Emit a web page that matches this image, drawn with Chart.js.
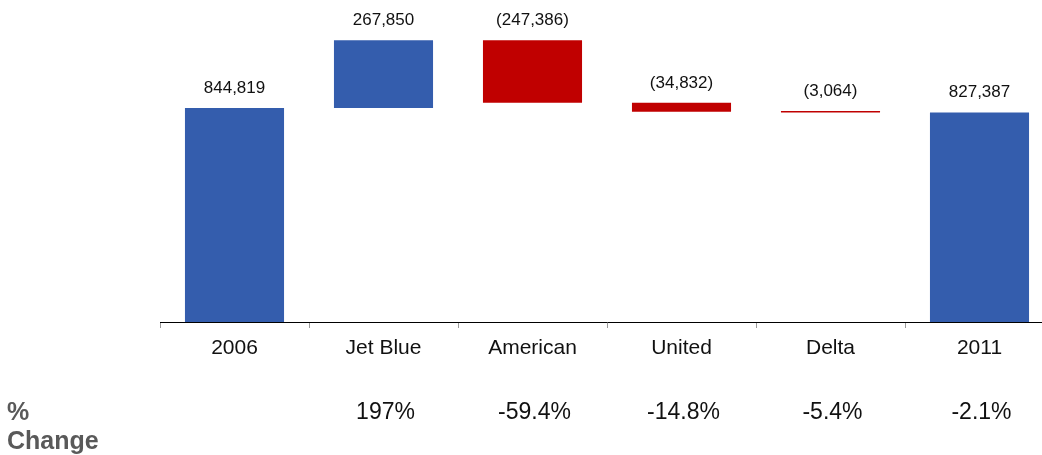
<!DOCTYPE html>
<html>
<head>
<meta charset="utf-8">
<script src="https://cdn.jsdelivr.net/npm/chart.js@4.4.1/dist/chart.umd.min.js"></script>
<style>
  html, body { margin: 0; padding: 0; background: #fff; overflow: hidden; }
  #wrap { width: 1060px; height: 455px; position: relative; }
</style>
</head>
<body>
<div id="wrap"><canvas id="chart_waterfall"></canvas></div>
<script>
// waterfall data
var categories = ['2006', 'Jet Blue', 'American', 'United', 'Delta', '2011'];
var changes = [844819, 267850, -247386, -34832, -3064, 827387];
var isTotal = [true, false, false, false, false, true];
var pctChange = ['', '197%', '-59.4%', '-14.8%', '-5.4%', '-2.1%'];

var blue = '#345DAD';
var red = '#C00000';

// build floating ranges from the running total
let ranges = [];
let colors = [];
let running = 0;
for (let i = 0; i < changes.length; i++) {
  if (isTotal[i]) {
    ranges.push([0, changes[i]]);
    running = changes[i];
    colors.push(blue);
  } else {
    ranges.push([running, running + changes[i]]);
    running += changes[i];
    colors.push(changes[i] < 0 ? red : blue);
  }
}

function fmt(v) {
  let s = Math.abs(v).toLocaleString('en-US');
  return v < 0 ? '(' + s + ')' : s;
}

const labelsPlugin = {
  id: 'labelsPlugin',
  afterDraw(chart) {
    const ctx = chart.ctx;
    const meta = chart.getDatasetMeta(0);
    const x = chart.scales.x;
    const y = chart.scales.y;
    ctx.save();
    // value labels above each bar
    ctx.font = '17px "Liberation Sans", Arial, sans-serif';
    ctx.fillStyle = '#111';
    ctx.textAlign = 'center';
    ctx.textBaseline = 'middle';
    for (let i = 0; i < changes.length; i++) {
      let top = y.getPixelForValue(Math.max(ranges[i][0], ranges[i][1]));
      ctx.fillText(fmt(changes[i]), meta.data[i].x, top - 20);
    }
    // % change row
    ctx.font = '23px "Liberation Sans", Arial, sans-serif';
    for (let i = 0; i < pctChange.length; i++) {
      ctx.fillText(pctChange[i], x.getPixelForValue(i) + 2, 413);
    }
    ctx.font = 'bold 25px "Liberation Sans", Arial, sans-serif';
    ctx.fillStyle = '#595959';
    ctx.textAlign = 'left';
    ctx.fillText('%', 7, 413);
    ctx.fillText('Change', 7, 442);
    ctx.restore();
  }
};

new Chart(document.getElementById('chart_waterfall'), {
  type: 'bar',
  data: {
    labels: categories,
    datasets: [{
      label: 'Change',
      data: ranges,
      backgroundColor: colors,
      borderWidth: 0,
      barPercentage: 1,
      categoryPercentage: 0.665,
      minBarLength: 1.5
    }]
  },
  options: {
    responsive: true,
    maintainAspectRatio: false,
    animation: false,
    devicePixelRatio: 1,
    layout: {
      padding: { left: 160, right: 6, top: 0, bottom: 0 }
    },
    plugins: {
      legend: { display: false },
      tooltip: { enabled: false }
    },
    scales: {
      x: {
        afterFit: function(s) { s.height = 133; },
        grid: {
          display: true,
          drawOnChartArea: false,
          offset: true,
          tickLength: 6,
          color: '#999'
        },
        border: { display: true, color: '#000', width: 1 },
        ticks: {
          padding: 8,
          color: '#111',
          font: { family: '"Liberation Sans", Arial, sans-serif', size: 21 }
        }
      },
      y: {
        display: false,
        min: 0,
        max: 1271200
      }
    }
  },
  plugins: [labelsPlugin]
});
</script>
</body>
</html>
